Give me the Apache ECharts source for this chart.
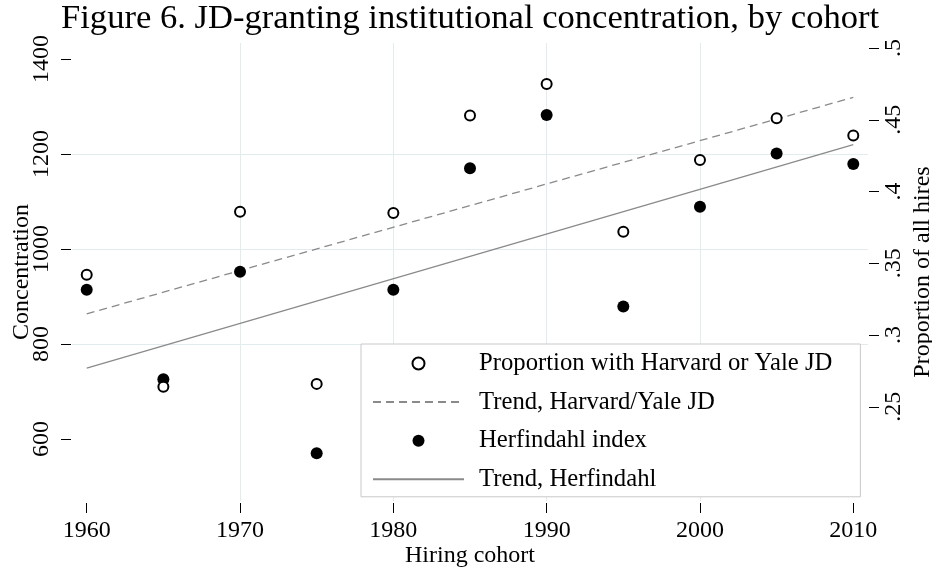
<!DOCTYPE html>
<html><head><meta charset="utf-8">
<script src="https://cdn.jsdelivr.net/npm/echarts@6/dist/echarts.min.js"></script>
<style>html,body{margin:0;padding:0;background:#fff}#c{width:932px;height:569px}</style>
</head><body><div id="c"></div>
<script>
// ---- data ----
const cohorts = [1960, 1965, 1970, 1975, 1980, 1985, 1990, 1995, 2000, 2005, 2010];
const harvardYaleShare = [0.342, 0.264, 0.386, 0.266, 0.385, 0.453, 0.475, 0.372, 0.422, 0.451, 0.439];
const herfindahl = [914, 726, 952, 570, 914, 1170, 1282, 879, 1089, 1201, 1179];
const trendYears = [1960, 2010];
const trendHarvardYale = [0.3148, 0.4656];
const trendHerfindahl = [749, 1220];
const xTicks = [1960, 1970, 1980, 1990, 2000, 2010];
const leftTicks = [600, 800, 1000, 1200, 1400];
const rightTicks = [0.25, 0.3, 0.35, 0.4, 0.45, 0.5];

const FONT = 'Liberation Serif';
const GRID = '#e2ecee';
const TREND = '#8a8a8a';
const pair = (xs, ys) => xs.map((x, i) => [x, ys[i]]);

const chart = echarts.init(document.getElementById('c'), null, {renderer: 'canvas'});
chart.setOption({
  animation: false,
  backgroundColor: '#fff',
  title: {
    text: 'Figure 6. JD-granting institutional concentration, by cohort',
    left: 61, top: 1, padding: 0,
    textStyle: {fontFamily: FONT, fontSize: 34.6, fontWeight: 'normal', color: '#000'}
  },
  grid: {left: 72, right: 64, top: 43, bottom: 68, containLabel: false, outerBoundsMode: 'none'},
  legend: {
    orient: 'vertical', left: 361, top: 344,
    padding: [7, 28, 5, 11], itemGap: 13.6, itemWidth: 91, itemHeight: 12,
    borderColor: '#c8c8c8', borderWidth: 1, backgroundColor: '#fff',
    selectedMode: false,
    data: [
      {name: 'Proportion with Harvard or Yale JD'},
      {name: 'Trend, Harvard/Yale JD', itemStyle: {opacity: 0}},
      {name: 'Herfindahl index'},
      {name: 'Trend, Herfindahl', itemStyle: {opacity: 0}}
    ],
    textStyle: {fontFamily: FONT, fontSize: 24.7, color: '#000', lineHeight: 24, padding: [0, 0, 0, 10]}
  },
  xAxis: {
    type: 'value', min: 1959.04, max: 2010.96, offset: 2,
    axisLine: {show: false},
    axisTick: {show: true, customValues: xTicks, length: 10, lineStyle: {color: '#000', width: 1}},
    axisLabel: {customValues: xTicks, margin: 16, fontFamily: FONT, fontSize: 24, color: '#000', formatter: v => String(v)},
    splitLine: {show: true, showMinLine: false, showMaxLine: false, lineStyle: {color: GRID, width: 1}},
    name: 'Hiring cohort', nameLocation: 'middle', nameGap: 41, nameMoveOverlap: false,
    nameTextStyle: {fontFamily: FONT, fontSize: 24, color: '#000'}
  },
  yAxis: [{
    type: 'value', position: 'left', min: 469.5, max: 1433.7, offset: 1,
    axisLine: {show: false},
    axisTick: {show: true, customValues: leftTicks, length: 10, lineStyle: {color: '#000', width: 1}},
    axisLabel: {customValues: leftTicks, rotate: 90, margin: 17, fontFamily: FONT, fontSize: 24, color: '#000', formatter: v => String(v)},
    splitLine: {show: true, showMinLine: false, showMaxLine: false, lineStyle: {color: GRID, width: 1}},
    name: 'Concentration', nameLocation: 'middle', nameGap: 37, nameRotate: 90, nameMoveOverlap: false,
    nameTextStyle: {fontFamily: FONT, fontSize: 24, color: '#000'}
  }, {
    type: 'value', position: 'right', min: 0.1844, max: 0.5035, offset: 1,
    axisLine: {show: false},
    axisTick: {show: true, customValues: rightTicks, length: 10, lineStyle: {color: '#000', width: 1}},
    axisLabel: {customValues: rightTicks, rotate: 90, margin: 13, fontFamily: FONT, fontSize: 24, color: '#000',
      formatter: v => String(+v.toFixed(2)).replace(/^0/, '')},
    splitLine: {show: false},
    name: 'Proportion of all hires', nameLocation: 'middle', nameGap: 42, nameRotate: 90, nameMoveOverlap: false,
    nameTextStyle: {fontFamily: FONT, fontSize: 24, color: '#000'}
  }],
  series: [{
    name: 'Trend, Harvard/Yale JD', type: 'line', yAxisIndex: 1,
    data: pair(trendYears, trendHarvardYale), symbol: 'none', z: 2,
    lineStyle: {color: TREND, width: 1.3, type: [8, 5]}, itemStyle: {color: TREND}
  }, {
    name: 'Trend, Herfindahl', type: 'line', yAxisIndex: 0,
    data: pair(trendYears, trendHerfindahl), symbol: 'none', z: 2,
    lineStyle: {color: TREND, width: 1.3, type: 'solid'}, itemStyle: {color: TREND}
  }, {
    name: 'Herfindahl index', type: 'scatter', yAxisIndex: 0,
    data: pair(cohorts, herfindahl), symbol: 'circle', symbolSize: 12, z: 3,
    itemStyle: {color: '#000', opacity: 1}
  }, {
    name: 'Proportion with Harvard or Yale JD', type: 'scatter', yAxisIndex: 1,
    data: pair(cohorts, harvardYaleShare), symbol: 'circle', symbolSize: 10, z: 4,
    itemStyle: {color: '#fff', borderColor: '#000', borderWidth: 2, opacity: 1}
  }]
});
</script></body></html>
